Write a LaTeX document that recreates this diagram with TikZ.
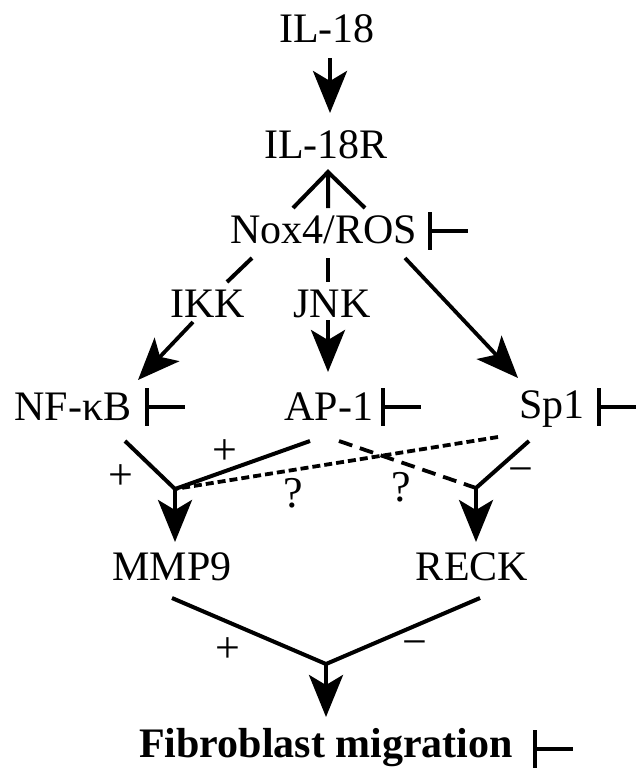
\documentclass[tikz,border=0pt]{standalone}
\usepackage{fontspec}
\setmainfont{Liberation Serif}
\usetikzlibrary{arrows.meta}
\begin{document}
\begin{tikzpicture}[x=1pt,y=-1pt,
  lbl/.style={font=\fontsize{42}{48}\selectfont, inner sep=0pt, anchor=base},
  bold lbl/.style={lbl, font=\fontsize{42}{48}\selectfont\bfseries},
  sgn/.style={font=\fontsize{44}{50}\selectfont, inner sep=0pt},
  ln/.style={line width=4pt},
  arr/.style={line width=3.8pt, -{Stealth[length=42pt,width=34pt,inset=10pt]}},
  inh/.style={line width=4.4pt},
  dotline/.style={line width=3.8pt, dash pattern=on 8pt off 4pt},
  dashline/.style={line width=3.8pt, dash pattern=on 14pt off 8pt},
  inhib/.pic={\draw[inh] (0,-19) -- (0,19) (0,0) -- (38,0);}]
\useasboundingbox (0,0) rectangle (636,771);

% labels
\node[lbl] (il18) at (327,42) {IL-18};
\node[lbl] (il18r) at (326,158) {IL-18R};
\node[lbl] (nox) at (324,243) {Nox4/ROS};
\node[lbl] (ikk) at (208,317) {IKK};
\node[lbl] (jnk) at (332,317) {JNK};
\node[lbl] (nfkb) at (73,420) {NF-κB};
\node[lbl] (ap1) at (329,420) {AP-1};
\node[lbl] (sp1) at (552,418) {Sp1};
\node[lbl] (mmp9) at (172,580) {MMP9};
\node[lbl] (reck) at (472,580) {RECK};
\node[bold lbl] (fib) at (326,757) {Fibroblast migration};

% inhibition bars
\pic (noxinh) at (430,231) {inhib};
\pic (nfkbinh) at (147,407) {inhib};
\pic (ap1inh) at (383,407) {inhib};
\pic (sp1inh) at (599,407) {inhib};
\pic (fibinh) at (535,749) {inhib};

% coordinates
\coordinate (a1) at (330,58);
\coordinate (a1t) at (330,113);
\coordinate (apex) at (328,172);
\coordinate (fl) at (293,208);
\coordinate (fm) at (328,208);
\coordinate (fr) at (365,208);
\coordinate (nl1) at (252,258);
\coordinate (nl2) at (227,282);
\coordinate (il1) at (193,322);
\coordinate (il2) at (138,380);
\coordinate (nm1) at (328,258);
\coordinate (nm2) at (328,282);
\coordinate (jm1) at (328,320);
\coordinate (jm2) at (328,372);
\coordinate (nr1) at (405,258);
\coordinate (nr2) at (518,378);
\coordinate (nfo) at (125,441);
\coordinate (apo) at (310,441);
\coordinate (apd) at (339,441);
\coordinate (spd) at (498,437);
\coordinate (spo) at (529,441);
\coordinate (jm) at (175,489);
\coordinate (jmt) at (175,542);
\coordinate (jr) at (476,488);
\coordinate (jrt) at (476,542);
\coordinate (mo) at (172,598);
\coordinate (ro) at (480,598);
\coordinate (jb) at (326,664);
\coordinate (jbt) at (326,717);

% connectors
\draw[arr] (a1) -- (a1t);
\draw[ln] (fl) -- (apex) -- (fr) (fm) -- (apex);
\draw[ln] (nl1) -- (nl2);
\draw[arr] (il1) -- (il2);
\draw[ln] (nm1) -- (nm2);
\draw[arr] (jm1) -- (jm2);
\draw[arr] (nr1) -- (nr2);

\draw[ln] (nfo) -- (jm) -- (apo);
\draw[dotline] (spd) -- (jm);
\draw[dashline] (apd) -- (jr);
\draw[ln] (spo) -- (jr);
\draw[arr] (jm) -- (jmt);
\draw[arr] (jr) -- (jrt);

\draw[ln] (mo) -- (jb) -- (ro);
\draw[arr] (jb) -- (jbt);

% signs
\node[sgn] (p1) at (121,477) {+};
\node[sgn] (p2) at (225,452) {+};
\node[sgn] (q1) at (293,493) {?};
\node[sgn] (q2) at (401,487) {?};
\node[sgn] (m1) at (521,476) {−};
\node[sgn] (p3) at (228,650) {+};
\node[sgn] (m2) at (415,649) {−};
\end{tikzpicture}
\end{document}
